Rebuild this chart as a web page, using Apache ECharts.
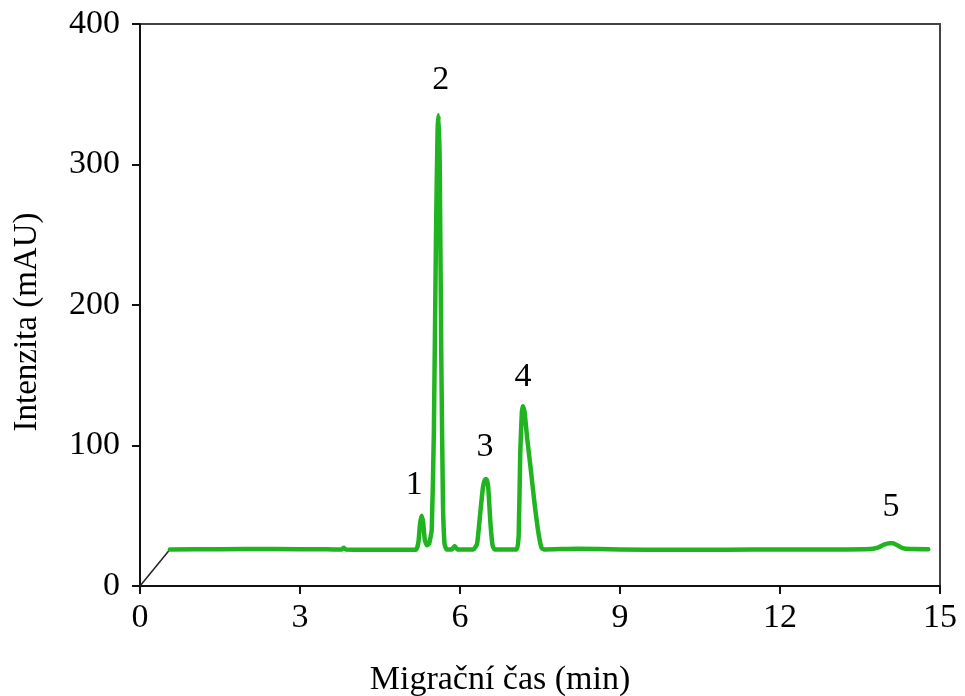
<!DOCTYPE html>
<html>
<head>
<meta charset="utf-8">
<script src="https://cdn.jsdelivr.net/npm/echarts@6/dist/echarts.min.js"></script>
<style>html,body{margin:0;padding:0;background:#fff;}#c{width:965px;height:696px;}</style>
</head>
<body>
<div id="c"></div>
<script>
// Electropherogram trace: [migration time (min), intensity (mAU)]
var traceTime = [0.56,1.5,2.5,3.5,3.78,3.82,3.86,4.5,5.0,5.18,5.22,5.25,5.28,5.31,5.34,5.38,5.42,5.47,5.51,5.55,5.58,5.60,5.62,5.65,5.68,5.71,5.75,5.85,5.90,5.95,6.25,6.32,6.38,6.43,6.47,6.50,6.53,6.57,6.61,6.65,7.06,7.10,7.13,7.16,7.18,7.21,7.26,7.33,7.40,7.47,7.53,7.58,8.2,9.0,10.0,11.0,12.0,13.0,13.7,13.85,13.95,14.05,14.12,14.2,14.3,14.45,14.78];
var traceValue = [26,26.2,26.3,26.1,26,27.2,26,25.8,25.8,26,31,44,50,45,33,29,30,40,110,250,325,335,300,160,60,30,26,26,28.5,26,26,30,52,70,76,76,70,45,29,26,26,36,95,124,128,124,105,82,58,38,27,26,26.5,26,25.8,25.8,26,26,26.3,27.5,29.5,30.5,30.5,29,27,26.3,26.2];
// Baseline connector from origin to start of trace
var connTime = [0, 0.56];
var connValue = [0, 26];
// Peak labels
var peakNames = ['1','2','3','4','5'];
var peakLabelTime = [5.14, 5.64, 6.47, 7.18, 14.08];
var peakLabelValue = [72, 360, 99, 149, 56];
// Axis ticks
var xTicks = [0,3,6,9,12,15];
var yTicks = [0,100,200,300,400];

var trace = traceTime.map(function(t,i){return [t, traceValue[i]];});
var conn = connTime.map(function(t,i){return [t, connValue[i]];});
var labels = peakNames.map(function(n,i){return {value:[peakLabelTime[i], peakLabelValue[i]], name:n};});

var font = 'Liberation Serif';
var chart = echarts.init(document.getElementById('c'), null, {renderer:'canvas'});
chart.setOption({
  animation:false,
  backgroundColor:'#fff',
  grid:{left:140, right:25, top:24, bottom:110, containLabel:false, outerBoundsMode:'none',
        show:true, borderColor:'#444', borderWidth:2, backgroundColor:'transparent'},
  xAxis:{
    type:'value', min:xTicks[0], max:xTicks[xTicks.length-1], interval:3,
    name:'Migrační čas (min)', nameLocation:'middle', nameGap:77,
    nameTextStyle:{fontFamily:font, fontSize:34, color:'#000', padding:[0,80,0,0]},
    axisLine:{show:true, lineStyle:{color:'#111', width:2}},
    axisTick:{show:true, length:8, lineStyle:{color:'#111', width:2}},
    axisLabel:{fontFamily:font, fontSize:34, color:'#000', margin:15},
    splitLine:{show:false}
  },
  yAxis:{
    type:'value', min:yTicks[0], max:yTicks[yTicks.length-1], interval:100,
    name:'Intenzita (mAU)', nameLocation:'middle', nameGap:96,
    nameTextStyle:{fontFamily:font, fontSize:33, color:'#000', padding:[0,34,0,0]},
    axisLine:{show:true, lineStyle:{color:'#111', width:2}},
    axisTick:{show:true, length:8, lineStyle:{color:'#111', width:2}},
    axisLabel:{fontFamily:font, fontSize:34, color:'#000', margin:20},
    splitLine:{show:false}
  },
  series:[
    {type:'line', data:conn, symbol:'none', lineStyle:{color:'#222', width:1.5}, z:1},
    {type:'line', data:trace, symbol:'none', smooth:0.15, lineStyle:{color:'#20b420', width:4.5, cap:'round', join:'round'}, z:3},
    {type:'scatter', data:labels, symbolSize:0, z:4, itemStyle:{opacity:1},
      label:{show:true, position:'inside', formatter:function(p){return p.name;}, fontFamily:font, fontSize:34, color:'#000', opacity:1}}
  ]
});
</script>
</body>
</html>
